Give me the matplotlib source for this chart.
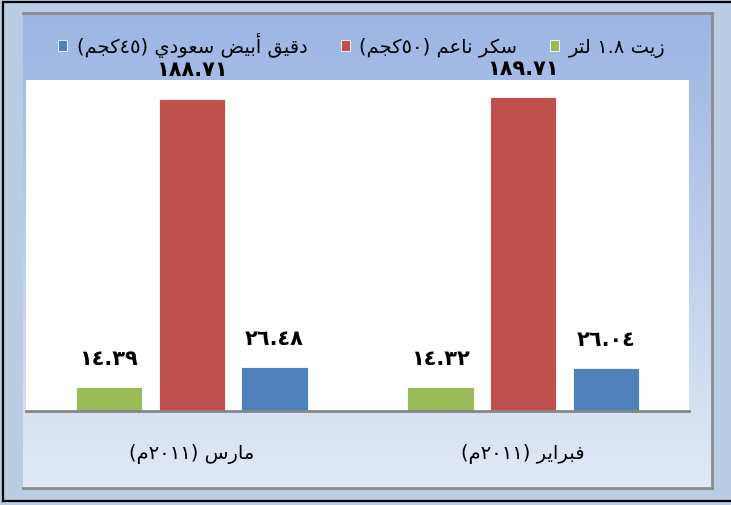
import re
import numpy as np
import matplotlib
matplotlib.use("Agg")
import matplotlib.pyplot as plt
from matplotlib.patches import Rectangle
from matplotlib.lines import Line2D

# ---------------- data ----------------
categories = ["مارس (٢٠١١م)", "فبراير (٢٠١١م)"]
series_names = ["زيت ١.٨ لتر", "سكر ناعم (٥٠كجم)", "دقيق أبيض سعودي (٤٥كجم)"]
oil_values = [14.39, 14.32]
sugar_values = [188.71, 189.71]
flour_values = [26.48, 26.04]
series_colors = ["#9bbb59", "#c0504d", "#4f81bd"]

# ---------------- minimal Arabic shaping + visual ordering ----------------
FORMS = {
    'ا': ('\uFE8D', '\uFE8E', None, None),
    'أ': ('\uFE83', '\uFE84', None, None),
    'ب': ('\uFE8F', '\uFE90', '\uFE91', '\uFE92'),
    'ت': ('\uFE95', '\uFE96', '\uFE97', '\uFE98'),
    'ج': ('\uFE9D', '\uFE9E', '\uFE9F', '\uFEA0'),
    'د': ('\uFEA9', '\uFEAA', None, None),
    'ر': ('\uFEAD', '\uFEAE', None, None),
    'ز': ('\uFEAF', '\uFEB0', None, None),
    'س': ('\uFEB1', '\uFEB2', '\uFEB3', '\uFEB4'),
    'ض': ('\uFEBD', '\uFEBE', '\uFEBF', '\uFEC0'),
    'ع': ('\uFEC9', '\uFECA', '\uFECB', '\uFECC'),
    'ف': ('\uFED1', '\uFED2', '\uFED3', '\uFED4'),
    'ق': ('\uFED5', '\uFED6', '\uFED7', '\uFED8'),
    'ك': ('\uFED9', '\uFEDA', '\uFEDB', '\uFEDC'),
    'ل': ('\uFEDD', '\uFEDE', '\uFEDF', '\uFEE0'),
    'م': ('\uFEE1', '\uFEE2', '\uFEE3', '\uFEE4'),
    'ن': ('\uFEE5', '\uFEE6', '\uFEE7', '\uFEE8'),
    'و': ('\uFEED', '\uFEEE', None, None),
    'ي': ('\uFEF1', '\uFEF2', '\uFEF3', '\uFEF4'),
}
DIGITS = '٠١٢٣٤٥٦٧٨٩'


def shape(s):
    out = []
    for i, ch in enumerate(s):
        if ch not in FORMS:
            out.append(ch)
            continue
        iso, fin, ini, med = FORMS[ch]
        prev = s[i - 1] if i > 0 else ''
        nxt = s[i + 1] if i + 1 < len(s) else ''
        pj = prev in FORMS and FORMS[prev][2] is not None
        nj = nxt in FORMS and ini is not None
        if pj and nj:
            out.append(med)
        elif pj:
            out.append(fin)
        elif nj:
            out.append(ini)
        else:
            out.append(iso)
    return ''.join(out)


def visual(s):
    shaped = shape(s)
    tokens = re.findall(r'[٠-٩]+(?:\.[٠-٩]+)*|.', shaped)
    mirror = {'(': ')', ')': '('}
    res = []
    for t in reversed(tokens):
        res.append(t if t[0] in DIGITS else mirror.get(t, t))
    return ''.join(res)


def ar_num(v):
    return f"{v:.2f}".translate(str.maketrans('0123456789', DIGITS))


plt.rcParams['font.family'] = ['DejaVu Sans']

W, H = 731, 505
fig = plt.figure(figsize=(W / 100, H / 100), dpi=100)


def fx(px):
    return px / W


def fy(py):
    return 1 - py / H


# outer background
fig.patches.append(Rectangle((0, 0), 1, 1, transform=fig.transFigure,
                             facecolor="#b9cde5", edgecolor="none", zorder=-10))
# outer black frame (left, top, bottom)
for xs, ys in [((fx(3), fx(3)), (fy(3), fy(501))),
               ((fx(3), 1), (fy(501), fy(501))),
               ((fx(3), 1), (fy(2), fy(2)))]:
    fig.lines.append(Line2D(xs, ys, transform=fig.transFigure, color="black", lw=1.6, zorder=-5))

# inner chart frame gradient
x0, x1, y0, y1 = 23, 712, 13, 488
gax = fig.add_axes([fx(x0), fy(y1), fx(x1 - x0), (y1 - y0) / H], zorder=-2)
top_c = np.array([155, 181, 227]) / 255
bot_c = np.array([226, 233, 246]) / 255
t = np.linspace(0, 1, 256)[:, None]
grad = (top_c[None, :] * (1 - t) + bot_c[None, :] * t)[:, None, :]
gax.imshow(grad, aspect='auto', extent=[0, 1, 0, 1], origin='upper')
gax.set_axis_off()
# frame border (top, right, bottom)
for xs, ys in [((fx(x0), fx(x1)), (fy(y0), fy(y0))),
               ((fx(x1), fx(x1)), (fy(y0), fy(y1))),
               ((fx(x0), fx(x1)), (fy(y1), fy(y1)))]:
    fig.lines.append(Line2D(xs, ys, transform=fig.transFigure, color="#8c8c8c", lw=2, zorder=-1))

# main plot
pl, pr, pt, pb = 26, 689, 80, 411
ax = fig.add_axes([fx(pl), fy(pb), fx(pr - pl), (pb - pt) / H], zorder=1)
ax.set_facecolor("white")
x = np.arange(len(categories))
width = 0.2
offsets = [-0.25, 0.0, 0.25]
all_series = [oil_values, sugar_values, flour_values]
handles = []
for vals, off, col, name in zip(all_series, offsets, series_colors, series_names):
    bars = ax.bar(x + off, vals, width, color=col, edgecolor="white", linewidth=0.6, label=visual(name))
    handles.append(bars)
    for xi, v in zip(x + off, vals):
        ax.annotate(ar_num(v), xy=(xi, v), xytext=(0, 16), textcoords="offset points",
                    ha="center", va="baseline", fontsize=15, fontweight="bold", color="black")

ax.set_xlim(-0.5, 1.5)
ax.set_ylim(0, 200)
ax.set_yticks([])
ax.set_xticks(x)
ax.set_xticklabels([visual(c) for c in categories], fontsize=14)
ax.tick_params(axis='x', length=0, pad=24)
for s in ["top", "left", "right"]:
    ax.spines[s].set_visible(False)
ax.spines["bottom"].set_color("#868686")
ax.spines["bottom"].set_linewidth(2)

leg = fig.legend([handles[2], handles[1], handles[0]],
                 [visual(series_names[2]), visual(series_names[1]), visual(series_names[0])],
                 loc="center", bbox_to_anchor=(fx(362), fy(45)), ncol=3, frameon=False,
                 prop={'size': 14}, handlelength=0.46, handleheight=0.46,
                 handletextpad=0.5, columnspacing=1.7)

fig.savefig("out.png", dpi=100)
